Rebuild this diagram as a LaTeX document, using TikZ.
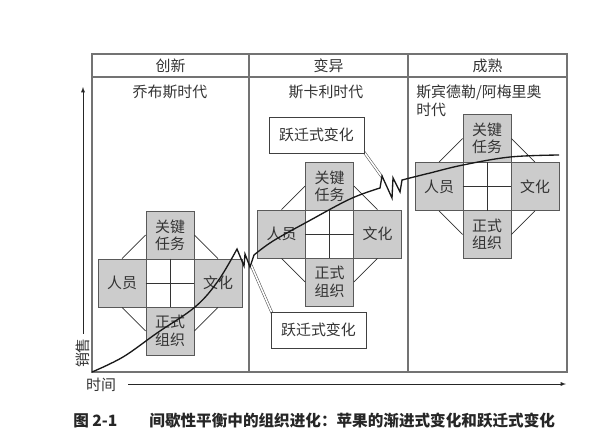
\documentclass[tikz,border=0pt]{standalone}
\usepackage{fontspec}
\setmainfont{Noto Sans CJK SC}

\begin{document}
\begin{tikzpicture}[x=0.75pt, y=-0.75pt, >=latex,
    every node/.style={text=black!80, inner sep=0pt},
    txt/.style={font=\fontsize{11.2}{13.5}\selectfont},
    cell/.style={draw=black!65, fill=gray!40, line width=0.5pt, minimum size=36pt,
        align=center, font=\fontsize{11.2}{13}\selectfont},
    core/.style={draw=black!80, fill=white, line width=0.6pt, minimum size=36pt},
    jumpbox/.style={draw=black!75, fill=white, line width=0.6pt, minimum width=71.25pt,
        minimum height=27pt, font=\fontsize{11.2}{13}\selectfont},
    pointer/.style={draw=black!70, line width=0.4pt, double=white, double distance=1.2pt},
    frame/.style={draw=black!55, line width=0.8pt}]
    \useasboundingbox (0,0) rectangle (598,439);

    % 1. Khung ba giai đoạn
    \draw[frame] (92,54) rectangle (567,372);
    \draw[frame] (92,77) -- (567,77);
    \draw[frame] (249,54) -- (249,372);
    \draw[frame] (408,54) -- (408,372);

    \node[txt] (stage1) at (170.5,66) {创新};
    \node[txt] (stage2) at (328.5,66) {变异};
    \node[txt] (stage3) at (487.5,66) {成熟};

    \node[txt] (era1) at (170,92) {乔布斯时代};
    \node[txt] (era2) at (326,92) {斯卡利时代};
    \node[txt, anchor=west, align=left] (era3) at (416,101) {斯宾德勒/阿梅里奥\\时代};

    % 2. Trục
    \node[txt, rotate=90] (sales) at (83,353) {销售};
    \coordinate (ytop) at (83,87);
    \draw[->, black!85] ([yshift=3pt]sales.east) -- (ytop);
    \node[txt] (time) at (101,385) {时间};
    \coordinate (xfoot) at (128,384);
    \coordinate (xtip) at (566,384);
    \draw[->, black!85] (xfoot) -- (xtip);

    % 3. Ba sơ đồ tổ chức
    \foreach \n/\cx/\cy in {a/170/283, b/329.5/234, c/487/186.5}{
        \node[core] (\n-mid) at (\cx,\cy) {};
        \node[cell] (\n-top) at (\cx,\cy-48) {关键\\任务};
        \node[cell] (\n-left) at (\cx-48,\cy) {人员};
        \node[cell] (\n-right) at (\cx+48,\cy) {文化};
        \node[cell] (\n-bot) at (\cx,\cy+48) {正式\\组织};
        \draw[black!80, line width=0.5pt] (\n-mid.north) -- (\n-mid.south)
            (\n-mid.west) -- (\n-mid.east);
        \draw[black!80, line width=0.5pt] (\n-left.north) -- (\n-top.west)
            (\n-top.east) -- (\n-right.north)
            (\n-right.south) -- (\n-bot.east)
            (\n-bot.west) -- (\n-left.south);
    }

    % 4. Chú thích biến đổi nhảy vọt
    \coordinate (zigA) at (382,177);
    \coordinate (zigB) at (251,265);
    \draw[pointer] (364,152) -- (zigA);
    \draw[pointer] (272,313) -- (zigB);
    \node[jumpbox] (jumpA) at (316.5,135) {跃迁式变化};
    \node[jumpbox] (jumpB) at (318.5,330) {跃迁式变化};

    % 5. Đường doanh số
    \draw[black!90, line width=1pt, line join=miter]
        plot[smooth, tension=0.6] coordinates {(92,372) (123,357) (157,333) (195,307) (218,281) (237,249)}
        -- (244,266) -- (245,254) -- (250,267) -- (254,255)
        -- plot[smooth, tension=0.6] coordinates {(254,255) (273,241) (307,222) (350,199) (380,188)}
        -- (382,176) -- (392,198) -- (393,178) -- (400,192) -- (402,180)
        -- plot[smooth, tension=0.6] coordinates {(402,180) (430,173) (463,165) (510,157) (559,155)};

    % 6. Chú thích hình
    \node[anchor=west, font=\fontsize{11.7}{14}\bfseries, text=black!85] (caption) at (73,421)
        {图 2-1\hspace{24pt}间歇性平衡中的组织进化：苹果的渐进式变化和跃迁式变化};
\end{tikzpicture}
\end{document}
